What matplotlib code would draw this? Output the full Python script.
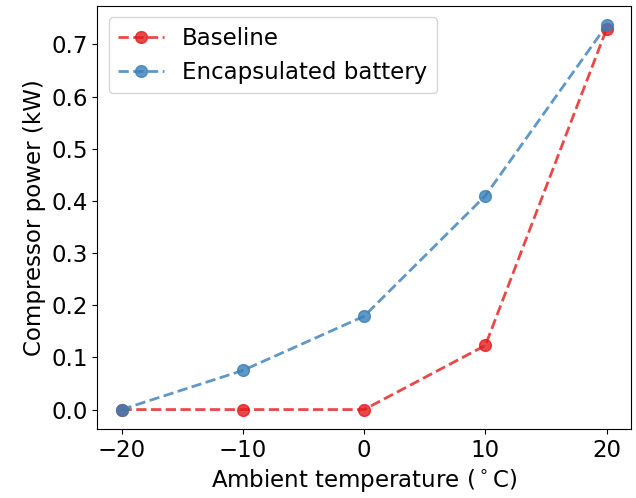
import numpy as np
import matplotlib
matplotlib.use('Agg')
import matplotlib.pyplot as plt

plt.rcParams['font.size'] = 16.5

# data
temps = [-20, -10, 0, 10, 20]
baseline = [0.0, 0.0, 0.0, 0.123, 0.730]
encapsulated = [0.0, 0.075, 0.179, 0.410, 0.737]

fig, ax = plt.subplots(figsize=(6.36, 4.98), dpi=100)

ax.plot(temps, baseline, 'o--', color='#e41a1c', alpha=0.8, lw=2,
        markersize=8.5, label='Baseline')
ax.plot(temps, encapsulated, 'o--', color='#377eb8', alpha=0.8, lw=2,
        markersize=8.5, label='Encapsulated battery')

ax.set_xlabel(r'Ambient temperature ($^\circ$C)')
ax.set_ylabel('Compressor power (kW)')
ax.set_xticks([-20, -10, 0, 10, 20])
ax.legend(loc='upper left')

fig.subplots_adjust(left=0.153, right=0.992, top=0.988, bottom=0.139)
plt.savefig('out.png', dpi=100)
